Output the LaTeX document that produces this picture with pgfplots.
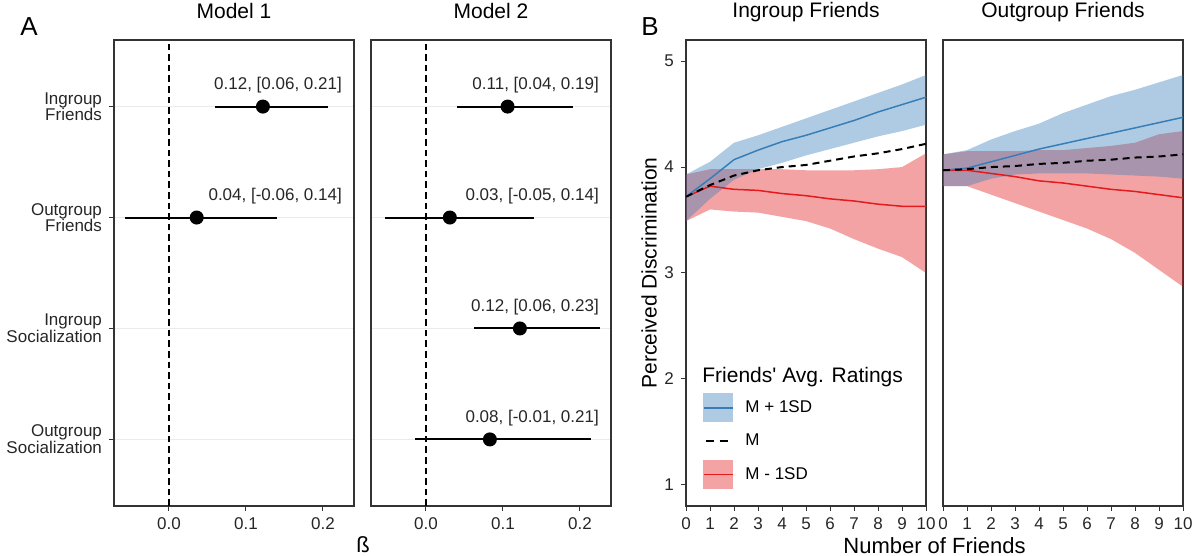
\documentclass[border=0pt]{standalone}
\usepackage{fontspec}
\setmainfont{Liberation Sans}[Ligatures=TeXOff]
\usepackage{pgfplots}
\usepackage{pgfplotstable}
\pgfplotsset{compat=1.18}

\definecolor{sdblue}{RGB}{55,126,184}
\definecolor{sdred}{RGB}{228,26,28}
\definecolor{axgray}{RGB}{51,51,51}
\definecolor{gridgray}{RGB}{235,235,235}

% coefficient estimates: row, beta, lower, upper
\pgfplotstableread{
row b lo hi
4 0.122 0.060 0.207
3 0.036 -0.057 0.140
}\mone
\pgfplotstableread{
row b lo hi
4 0.106 0.040 0.191
3 0.031 -0.053 0.140
2 0.122 0.063 0.226
1 0.083 -0.014 0.214
}\mtwo

% predicted lines: M+1SD (h), M (m), M-1SD (l)
\pgfplotstableread{
x h m l
0 3.72 3.72 3.72
1 3.89 3.83 3.82
2 4.07 3.92 3.79
3 4.16 3.97 3.78
4 4.24 4.00 3.75
5 4.30 4.02 3.73
6 4.37 4.06 3.70
7 4.44 4.10 3.68
8 4.52 4.13 3.65
9 4.59 4.17 3.63
10 4.66 4.22 3.63
}\ingr
\pgfplotstableread{
x h m l
0 3.97 3.97 3.97
1 3.99 3.98 3.97
2 4.05 4.00 3.94
3 4.11 4.01 3.91
4 4.17 4.03 3.87
5 4.22 4.04 3.85
6 4.27 4.06 3.82
7 4.32 4.07 3.79
8 4.37 4.09 3.77
9 4.42 4.10 3.74
10 4.47 4.12 3.71
}\outg

% confidence bands: upper edge left to right, then lower edge right to left
\pgfplotstableread{
x y
0 3.93
1 4.05
2 4.23
3 4.30
4 4.38
5 4.46
6 4.54
7 4.62
8 4.70
9 4.78
10 4.87
10 4.40
9 4.34
8 4.29
7 4.23
6 4.17
5 4.11
4 4.04
3 3.98
2 3.88
1 3.70
0 3.49
}\ingrblue
\pgfplotstableread{
x y
0 3.93
1 3.98
2 3.98
3 3.98
4 3.98
5 3.97
6 3.97
7 3.97
8 3.98
9 4.00
10 4.13
10 3.00
9 3.15
8 3.23
7 3.32
6 3.42
5 3.49
4 3.53
3 3.57
2 3.58
1 3.60
0 3.49
}\ingrred
\pgfplotstableread{
x y
0 4.12
1 4.16
2 4.26
3 4.34
4 4.41
5 4.51
6 4.59
7 4.67
8 4.73
9 4.80
10 4.87
10 3.89
9 3.91
8 3.92
7 3.93
6 3.94
5 3.94
4 3.94
3 3.93
2 3.89
1 3.82
0 3.82
}\outgblue
\pgfplotstableread{
x y
0 4.12
1 4.15
2 4.15
3 4.15
4 4.16
5 4.16
6 4.18
7 4.20
8 4.23
9 4.31
10 4.34
10 2.87
9 3.03
8 3.19
7 3.32
6 3.42
5 3.50
4 3.58
3 3.66
2 3.74
1 3.82
0 3.82
}\outgred

\pgfplotsset{
  panel/.style={
    scale only axis, width=120pt, height=233pt,
    axis line style={axgray, line width=0.6pt},
    tick style={axgray, line width=0.5pt},
    tick align=outside, major tick length=2.5pt, tick pos=left,
    ticklabel style={font=\fontsize{8.5}{8.3}\selectfont, text=black!85},
    /pgf/number format/assume math mode=true,
    title style={font=\fontsize{10.5}{12}\selectfont, at={(0.5,1)}, anchor=base, yshift=5pt},
  },
  coef/.style={
    panel, xmin=-0.0714, xmax=0.2403, ymin=0.4, ymax=4.6,
    xtick={0,0.1,0.2}, xticklabels={0.0,0.1,0.2},
    ytick={1,2,3,4}, ymajorgrids, grid style={gridgray, line width=0.7pt},
  },
  pred/.style={
    panel, xmin=0, xmax=10, ymin=0.8, ymax=5.2, xtick={0,...,10},
  },
  est/.style={black, line width=1pt, only marks, mark=*, mark size=3pt,
    error bars/.cd, x dir=both, x explicit, error mark=none,
    error bar style={line width=1pt, black}},
  zero/.style={black, line width=0.8pt, dash pattern=on 3.3pt off 2pt},
  band/.style={fill=#1, fill opacity=0.4, draw=none, forget plot},
  fit/.style={#1, line width=0.75pt, forget plot},
  mean/.style={black, line width=1pt, dash pattern=on 3.5pt off 2.5pt, forget plot},
}
\tikzset{lab/.style={anchor=east, inner sep=0pt, font=\fontsize{8.5}{10}\selectfont, text=black!85}}

\begin{document}
\begin{tikzpicture}
\useasboundingbox (-57pt,-25pt) rectangle (540.5pt,253pt);

\begin{axis}[coef, at={(0pt,0pt)}, title={Model 1},
  yticklabels={Outgroup\\Socialization, Ingroup\\Socialization, Outgroup\\Friends, Ingroup\\Friends},
  yticklabel style={align=right}]
  \addplot[zero] coordinates {(0,0.4) (0,4.6)};
  \addplot[est] table[x=b, y=row, x error plus expr=\thisrow{hi}-\thisrow{b}, x error minus expr=\thisrow{b}-\thisrow{lo}] {\mone};
  \node[lab] at (axis cs:0.225,4.19) {0.12, [0.06, 0.21]};
  \node[lab] at (axis cs:0.225,3.19) {0.04, [-0.06, 0.14]};
\end{axis}

\begin{axis}[coef, at={(128.5pt,0pt)}, title={Model 2},
  yticklabels={}, ytick style={draw=none}]
  \addplot[zero] coordinates {(0,0.4) (0,4.6)};
  \addplot[est] table[x=b, y=row, x error plus expr=\thisrow{hi}-\thisrow{b}, x error minus expr=\thisrow{b}-\thisrow{lo}] {\mtwo};
  \node[lab] at (axis cs:0.225,4.19) {0.11, [0.04, 0.19]};
  \node[lab] at (axis cs:0.225,3.19) {0.03, [-0.05, 0.14]};
  \node[lab] at (axis cs:0.225,2.19) {0.12, [0.06, 0.23]};
  \node[lab] at (axis cs:0.225,1.19) {0.08, [-0.01, 0.21]};
\end{axis}

\begin{axis}[pred, at={(286pt,0pt)}, title={Ingroup Friends}, ytick={1,...,5},
  legend style={at={(0.0708,0.0365)}, anchor=south west, draw=none, fill=none,
    inner sep=0pt, outer sep=0pt, row sep=2.5pt, column sep=6pt,
    font=\fontsize{8.5}{10}\selectfont, nodes={inner sep=0pt}},
  legend cell align=left]
  \addplot[band=sdred] table[x=x, y=y] {\ingrred} -- cycle;
  \addplot[band=sdblue] table[x=x, y=y] {\ingrblue} -- cycle;
  \addplot[fit=sdred] table[x=x, y=l] {\ingr};
  \addplot[fit=sdblue] table[x=x, y=h] {\ingr};
  \addplot[mean] table[x=x, y=m] {\ingr};
  \addlegendimage{legend image code/.code={
    \fill[sdblue!40] (0pt,-7pt) rectangle (14.5pt,7pt);
    \draw[sdblue, line width=0.75pt] (0pt,0pt) -- (14.5pt,0pt);}}
  \addlegendentry{M + 1SD}
  \addlegendimage{legend image code/.code={
    \path[draw=none, fill=none] (0pt,-7pt) rectangle (14.5pt,7pt);
    \draw[black, line width=1pt, dash pattern=on 4pt off 3pt] (1pt,0pt) -- (14pt,0pt);}}
  \addlegendentry{M}
  \addlegendimage{legend image code/.code={
    \fill[sdred!40] (0pt,-7pt) rectangle (14.5pt,7pt);
    \draw[sdred, line width=0.75pt] (0pt,0pt) -- (14.5pt,0pt);}}
  \addlegendentry{M - 1SD}
  \node[anchor=west, inner sep=0pt, font=\fontsize{10.5}{12}\selectfont] at (rel axis cs:0.0667,0.277) {Friends' Avg. Ratings};
\end{axis}

\begin{axis}[pred, at={(414.5pt,0pt)}, title={Outgroup Friends}, ytick=\empty]
  \addplot[band=sdred] table[x=x, y=y] {\outgred} -- cycle;
  \addplot[band=sdblue] table[x=x, y=y] {\outgblue} -- cycle;
  \addplot[fit=sdred] table[x=x, y=l] {\outg};
  \addplot[fit=sdblue] table[x=x, y=h] {\outg};
  \addplot[mean] table[x=x, y=m] {\outg};
\end{axis}

\node[anchor=base west, inner sep=0pt, font=\fontsize{13}{15}\selectfont] at (-47pt,235pt) {A};
\node[anchor=base west, inner sep=0pt, font=\fontsize{13}{15}\selectfont] at (263.5pt,235pt) {B};
\node[font=\fontsize{11}{13}\selectfont] at (124.5pt,-19.5pt) {ß};
\node[font=\fontsize{11}{13}\selectfont] at (410.25pt,-20pt) {Number of Friends};
\node[rotate=90, font=\fontsize{10.5}{12}\selectfont] at (267.5pt,116.5pt) {Perceived Discrimination};
\end{tikzpicture}
\end{document}
